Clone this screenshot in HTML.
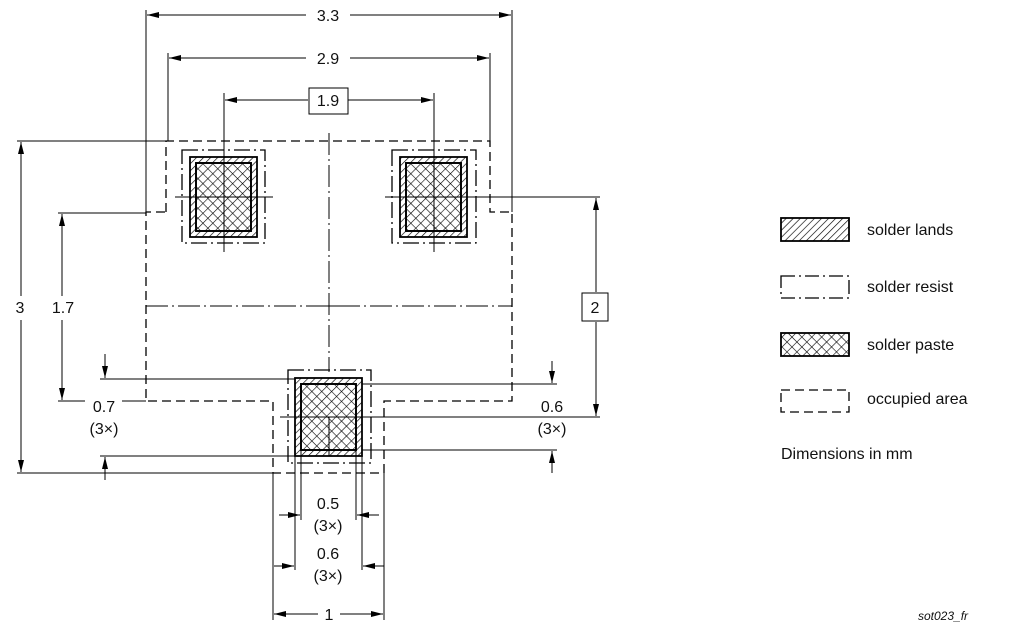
<!DOCTYPE html>
<html><head><meta charset="utf-8"><style>
html,body{margin:0;padding:0;background:#fff;}
svg{display:block;}
text{font-family:"Liberation Sans",Arial,sans-serif;font-size:16px;fill:#111;}
</style></head><body>
<svg width="1017" height="639" viewBox="0 0 1017 639" xmlns="http://www.w3.org/2000/svg">
<defs>
<pattern id="hatch" width="5" height="5" patternUnits="userSpaceOnUse" patternTransform="rotate(45)">
<line x1="0" y1="0" x2="0" y2="5" stroke="#000" stroke-width="1.3"/></pattern>
<pattern id="cross" width="7" height="7" patternUnits="userSpaceOnUse" patternTransform="rotate(45)">
<line x1="0" y1="0" x2="0" y2="7" stroke="#000" stroke-width="1.2"/>
<line x1="0" y1="0" x2="7" y2="0" stroke="#000" stroke-width="1.2"/></pattern>
<marker id="a" markerWidth="12" markerHeight="8" refX="12" refY="4" orient="auto" markerUnits="userSpaceOnUse">
<path d="M0,1 L12,4 L0,7 Z" fill="#000"/></marker>
</defs>
<g stroke="#000" stroke-width="1" fill="none">
<path d="M166,212 L166,141 L490,141 L490,212 L512,212 L512,401 L384,401 L384,473 L273,473 L273,401 L146,401 L146,212 Z" stroke-dasharray="9,5" stroke-width="1.3"/>
<line x1="329" y1="133" x2="329" y2="372" stroke-dasharray="22,4,2,4"/>
<line x1="146" y1="306" x2="512" y2="306" stroke-dasharray="22,4,2,4"/>
<line x1="318" y1="306" x2="340" y2="306"/>
<rect x="182" y="150" width="83" height="93" stroke-dasharray="16,4,2,4" stroke-width="1.3"/>
<rect x="392" y="150" width="84" height="93" stroke-dasharray="16,4,2,4" stroke-width="1.3"/>
<rect x="288" y="370" width="83" height="93" stroke-dasharray="16,4,2,4" stroke-width="1.3"/>
</g>
<g stroke="#000" stroke-width="1.8">
<rect x="190" y="157" width="67" height="80" fill="url(#hatch)"/>
<rect x="196" y="163" width="55" height="68" fill="#fff"/>
<rect x="196" y="163" width="55" height="68" fill="url(#cross)"/>
<rect x="400" y="157" width="67" height="80" fill="url(#hatch)"/>
<rect x="406" y="163" width="55" height="68" fill="#fff"/>
<rect x="406" y="163" width="55" height="68" fill="url(#cross)"/>
<rect x="295" y="378" width="67" height="78" fill="url(#hatch)"/>
<rect x="301" y="384" width="55" height="66" fill="#fff"/>
<rect x="301" y="384" width="55" height="66" fill="url(#cross)"/>
</g>
<g stroke="#000" stroke-width="1" fill="none">
<line x1="224" y1="93" x2="224" y2="252"/><line x1="175" y1="197" x2="273" y2="197"/>
<line x1="434" y1="93" x2="434" y2="252"/><line x1="385" y1="197" x2="600" y2="197"/>
<line x1="329" y1="417" x2="329" y2="456"/><line x1="280" y1="417" x2="600" y2="417"/>
<line x1="146" y1="10" x2="146" y2="212"/><line x1="512" y1="10" x2="512" y2="212"/>
<line x1="306" y1="15" x2="147" y2="15" marker-end="url(#a)"/><line x1="350" y1="15" x2="511" y2="15" marker-end="url(#a)"/>
<line x1="168" y1="53" x2="168" y2="141"/><line x1="490" y1="53" x2="490" y2="141"/>
<line x1="306" y1="58" x2="169" y2="58" marker-end="url(#a)"/><line x1="350" y1="58" x2="489" y2="58" marker-end="url(#a)"/>
<line x1="308" y1="100" x2="225" y2="100" marker-end="url(#a)"/><line x1="348" y1="100" x2="433" y2="100" marker-end="url(#a)"/>
<rect x="309" y="88" width="39" height="26"/>
<line x1="17" y1="141" x2="166" y2="141"/><line x1="17" y1="473" x2="273" y2="473"/>
<line x1="21" y1="296" x2="21" y2="142" marker-end="url(#a)"/><line x1="21" y1="320" x2="21" y2="472" marker-end="url(#a)"/>
<line x1="58" y1="213" x2="146" y2="213"/><line x1="58" y1="401" x2="85" y2="401"/><line x1="122" y1="401" x2="146" y2="401"/>
<line x1="62" y1="296" x2="62" y2="214" marker-end="url(#a)"/><line x1="62" y1="320" x2="62" y2="400" marker-end="url(#a)"/>
<line x1="100" y1="379" x2="295" y2="379"/><line x1="100" y1="456" x2="295" y2="456"/>
<line x1="105" y1="354" x2="105" y2="378" marker-end="url(#a)"/><line x1="105" y1="480" x2="105" y2="457" marker-end="url(#a)"/>
<line x1="596" y1="292" x2="596" y2="198" marker-end="url(#a)"/><line x1="596" y1="322" x2="596" y2="416" marker-end="url(#a)"/>
<rect x="582" y="293" width="26" height="28"/>
<line x1="362" y1="384" x2="557" y2="384"/><line x1="362" y1="450" x2="557" y2="450"/>
<line x1="552" y1="361" x2="552" y2="383" marker-end="url(#a)"/><line x1="552" y1="473" x2="552" y2="451" marker-end="url(#a)"/>
<line x1="273" y1="473" x2="273" y2="620"/><line x1="384" y1="473" x2="384" y2="620"/>
<line x1="295" y1="456" x2="295" y2="570"/><line x1="362" y1="456" x2="362" y2="570"/>
<line x1="301" y1="450" x2="301" y2="520"/><line x1="356" y1="450" x2="356" y2="520"/>
<line x1="279" y1="515" x2="300" y2="515" marker-end="url(#a)"/><line x1="379" y1="515" x2="357" y2="515" marker-end="url(#a)"/>
<line x1="274" y1="566" x2="294" y2="566" marker-end="url(#a)"/><line x1="384" y1="566" x2="363" y2="566" marker-end="url(#a)"/>
<line x1="318" y1="614" x2="274" y2="614" marker-end="url(#a)"/><line x1="340" y1="614" x2="383" y2="614" marker-end="url(#a)"/>
<rect x="781" y="218" width="68" height="23" fill="url(#hatch)" stroke-width="1.8"/>
<path d="M781,276 L849,276 L849,298 L781,298 Z" stroke-dasharray="14,4,2,4" stroke-width="1.3"/>
<rect x="781" y="333" width="68" height="23" fill="url(#cross)" stroke-width="1.8"/>
<path d="M781,390 L849,390 L849,412 L781,412 Z" stroke-dasharray="9,5" stroke-width="1.3"/>
</g>
<g text-anchor="middle">
<text x="328" y="21">3.3</text>
<text x="328" y="64">2.9</text>
<text x="328" y="106">1.9</text>
<text x="595" y="313">2</text>
<text x="20" y="313">3</text>
<text x="63" y="313">1.7</text>
<text x="104" y="412">0.7</text>
<text x="104" y="434">(3×)</text>
<text x="552" y="412">0.6</text>
<text x="552" y="434">(3×)</text>
<text x="328" y="509">0.5</text>
<text x="328" y="531">(3×)</text>
<text x="328" y="559">0.6</text>
<text x="328" y="581">(3×)</text>
<text x="329" y="620">1</text>
</g>
<text x="867" y="235">solder lands</text>
<text x="867" y="292">solder resist</text>
<text x="867" y="350">solder paste</text>
<text x="867" y="404">occupied area</text>
<text x="781" y="459">Dimensions in mm</text>
<text x="918" y="620" style="font-size:12px;font-style:italic">sot023_fr</text>
</svg>
</body></html>
